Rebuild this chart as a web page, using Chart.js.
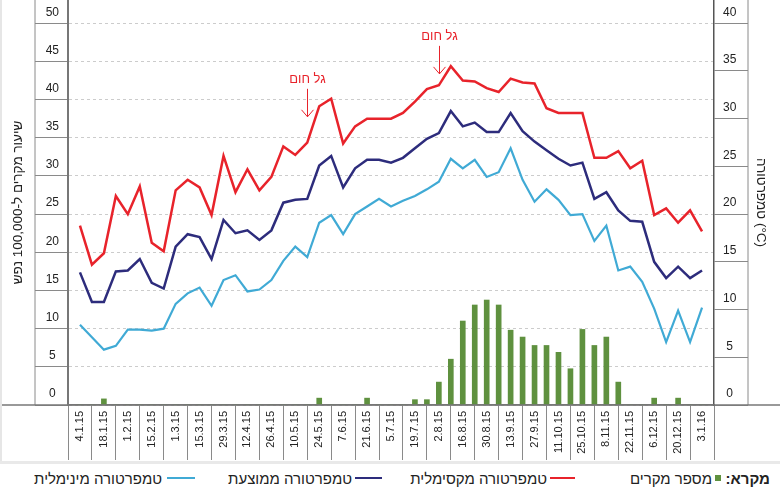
<!DOCTYPE html>
<html lang="he">
<head>
<meta charset="utf-8">
<script src="https://cdn.jsdelivr.net/npm/chart.js@4.4.1/dist/chart.umd.min.js"></script>
<style>
  html, body { margin: 0; padding: 0; background: #fff; }
  #wrap { position: relative; width: 780px; height: 492px; overflow: hidden; }
  #chart { position: absolute; left: 0; top: 0; }
  #edge { position: absolute; left: 0; top: 0; width: 2px; height: 461px; background: #e6e6e6; }
  #legend {
    position: absolute; left: 0; top: 461px; width: 780px; height: 31px;
    box-sizing: border-box; border-top: 3px solid #e9e9e9;
    direction: rtl; display: flex; align-items: center;
    padding-right: 10px;
    font-family: "Liberation Sans", "DejaVu Sans", sans-serif; font-size: 15px; color: #222;
  }
  #legend .key { display: inline-block; width: 43px; font-weight: bold; font-size: 15px; }
  #legend .txt { display: inline-block; text-align: right; white-space: nowrap; }
  #legend .sq { width: 6px; height: 6px; margin-right: 6px; margin-left: 3px; }
  #legend .ln { height: 1.5px; margin-left: 3px; }
</style>
</head>
<body>
<div id="wrap">
  <canvas id="chart" width="780" height="461"></canvas>
  <div id="edge"></div>
  <div id="legend">
    <span class="key">מקרא:</span>
    <span class="sq" style="background:#5f913f"></span>
    <span class="txt" style="width:90px">מספר מקרים</span>
    <span class="ln" style="background:#e8232b; width:25px; margin-right:47px"></span>
    <span class="txt" style="width:128px">טמפרטורה מקסימלית</span>
    <span class="ln" style="background:#2d2c7c; width:27px; margin-right:37px"></span>
    <span class="txt" style="width:115px">טמפרטורה ממוצעת</span>
    <span class="ln" style="background:#40aad5; width:28px; margin-right:42px; margin-left:5px"></span>
    <span class="txt" style="width:122px">טמפרטורה מינימלית</span>
  </div>
</div>
<script>
// tick labels, one every two weeks
const tickLabels = ['4.1.15', '18.1.15', '1.2.15', '15.2.15', '1.3.15', '15.3.15', '29.3.15',
    '12.4.15', '26.4.15', '10.5.15', '24.5.15', '7.6.15', '21.6.15', '5.7.15', '19.7.15',
    '2.8.15', '16.8.15', '30.8.15', '13.9.15', '27.9.15', '11.10.15', '25.10.15', '8.11.15',
    '22.11.15', '6.12.15', '20.12.15', '3.1.16'];

// weekly values, 4.1.15 .. 3.1.16
const cases = [0, 0, 0.8, 0, 0, 0, 0, 0, 0, 0,
    0, 0, 0, 0, 0, 0, 0, 0, 0, 0,
    0.9, 0, 0, 0, 0.9, 0, 0, 0, 0.7, 0.7,
    3.0, 6.0, 11.0, 13.1, 13.75, 13.1, 9.8, 8.9, 7.8, 7.8,
    6.9, 4.75, 9.9, 7.8, 8.9, 3.0, 0, 0, 0.9, 0,
    0.9, 0, 0];

const maxTemp = [18.8, 14.7, 15.9, 21.9, 20.0, 22.9, 17.0, 16.1, 22.5, 23.6,
    22.8, 19.9, 26.1, 22.3, 24.7, 22.5, 23.9, 27.1, 26.2, 27.5,
    31.3, 32.1, 27.4, 29.2, 30.0, 30.0, 30.0, 30.6, 31.8, 33.1,
    33.5, 35.5, 34.0, 33.9, 33.2, 32.8, 34.2, 33.8, 33.7, 31.1,
    30.6, 30.6, 30.6, 25.9, 25.9, 26.6, 24.8, 25.6, 19.9, 20.6,
    19.1, 20.4, 18.2];

const meanTemp = [13.9, 10.8, 10.8, 14.0, 14.1, 15.3, 12.8, 12.2, 16.6, 17.9,
    17.6, 15.3, 19.4, 18.0, 18.3, 17.3, 18.3, 21.2, 21.5, 21.6,
    25.1, 26.1, 22.8, 24.8, 25.7, 25.7, 25.4, 25.9, 26.9, 27.9,
    28.5, 30.8, 29.2, 29.6, 28.6, 28.6, 30.6, 28.7, 27.6, 26.7,
    25.8, 25.1, 25.4, 21.6, 22.3, 20.4, 19.3, 19.2, 15.0, 13.3,
    14.5, 13.3, 14.1];

const minTemp = [8.4, 7.1, 5.8, 6.2, 7.9, 7.9, 7.8, 8.0, 10.6, 11.7,
    12.3, 10.4, 13.1, 13.6, 11.9, 12.1, 13.1, 15.1, 16.6, 15.5,
    19.1, 19.9, 17.9, 20.0, 20.8, 21.6, 20.8, 21.4, 21.9, 22.6,
    23.4, 25.8, 24.8, 25.7, 23.9, 24.4, 26.9, 23.6, 21.3, 22.6,
    21.5, 19.9, 20.0, 17.2, 18.8, 14.1, 14.5, 12.9, 10.1, 6.6,
    9.9, 6.6, 10.2];

// heat wave notes: week index and the temperature the arrow points at
const heatWaveText = 'גל חום';
const heatWaveWeeks = [19, 30];
const heatWaveTips = [30.2, 34.7];

const toPoints = (arr) => arr.map((v, i) => ({x: i, y: v}));

Chart.defaults.font.family = '"Liberation Sans", "DejaVu Sans", sans-serif';
Chart.defaults.color = '#222';

const framePlugin = {
    id: 'frame',
    afterDraw(chart) {
        const {ctx, chartArea, width} = chart;
        const left = chartArea.left - chart.scales.y.options.grid.tickLength;
        const right = chartArea.right + chart.scales.y2.options.grid.tickLength;
        ctx.save();
        ctx.strokeStyle = '#8a8a8a';
        ctx.lineWidth = 1;
        ctx.beginPath();
        ctx.moveTo(left, 0);
        ctx.lineTo(left, chartArea.bottom);
        ctx.moveTo(right, 0);
        ctx.lineTo(right, chartArea.bottom);
        ctx.stroke();
        ctx.strokeStyle = '#777';
        ctx.lineWidth = 1.5;
        ctx.beginPath();
        ctx.moveTo(0, chartArea.bottom);
        ctx.lineTo(width, chartArea.bottom);
        ctx.stroke();
        ctx.restore();
    }
};

const heatWavePlugin = {
    id: 'heatWave',
    afterDatasetsDraw(chart) {
        const {ctx} = chart;
        const xs = chart.scales.x, ys = chart.scales.y2;
        ctx.save();
        ctx.strokeStyle = '#e8232b';
        ctx.fillStyle = '#e8232b';
        ctx.lineWidth = 1;
        ctx.font = '13px "Liberation Sans", "DejaVu Sans", sans-serif';
        ctx.textAlign = 'center';
        ctx.textBaseline = 'middle';
        heatWaveWeeks.forEach((w, i) => {
            const x = Math.round(xs.getPixelForValue(w)) + 0.5;
            const tip = ys.getPixelForValue(heatWaveTips[i]);
            const top = tip - 28;
            ctx.beginPath();
            ctx.moveTo(x, top);
            ctx.lineTo(x, tip);
            ctx.moveTo(x - 6, tip - 7);
            ctx.lineTo(x, tip);
            ctx.lineTo(x + 6, tip - 7);
            ctx.stroke();
            ctx.fillText(heatWaveText, x, top - 9);
        });
        ctx.restore();
    }
};

new Chart(document.getElementById('chart'), {
    type: 'bar',
    data: {
        datasets: [{
            label: 'טמפרטורה מקסימלית',
            type: 'line',
            data: toPoints(maxTemp),
            borderColor: '#e8232b',
            borderWidth: 2.5,
            yAxisID: 'y2',
            pointRadius: 0,
            tension: 0,
            fill: false
        }, {
            label: 'טמפרטורה ממוצעת',
            type: 'line',
            data: toPoints(meanTemp),
            borderColor: '#2d2c7c',
            borderWidth: 2.5,
            yAxisID: 'y2',
            pointRadius: 0,
            tension: 0,
            fill: false
        }, {
            label: 'טמפרטורה מינימלית',
            type: 'line',
            data: toPoints(minTemp),
            borderColor: '#40aad5',
            borderWidth: 2.2,
            yAxisID: 'y2',
            pointRadius: 0,
            tension: 0,
            fill: false
        }, {
            label: 'מספר מקרים',
            type: 'bar',
            data: toPoints(cases),
            backgroundColor: '#5f913f',
            barThickness: 5,
            yAxisID: 'y'
        }]
    },
    options: {
        responsive: false,
        animation: false,
        events: [],
        layout: {padding: 0},
        plugins: {
            legend: {display: false},
            tooltip: {enabled: false}
        },
        scales: {
            x: {
                type: 'linear',
                min: -1,
                max: 53,
                offset: false,
                ticks: {
                    stepSize: 1,
                    autoSkip: false,
                    minRotation: 90,
                    maxRotation: 90,
                    padding: -49,
                    font: {size: 11},
                    color: '#222',
                    callback: (value) => {
                        const v = Math.round(value);
                        return (v >= 0 && v % 2 === 0) ? tickLabels[v / 2] : '';
                    }
                },
                grid: {
                    offset: false,
                    drawOnChartArea: false,
                    tickLength: 55,
                    tickWidth: 1,
                    tickColor: (ctx) => (Math.round(ctx.tick.value) % 2 !== 0) ? '#8a8a8a' : 'rgba(0,0,0,0)'
                },
                border: {display: true, color: '#777', width: 1.5},
                afterFit: (scale) => { scale.height = 56; }
            },
            y: {
                type: 'linear',
                position: 'left',
                min: 0,
                max: 53.05,
                ticks: {
                    stepSize: 5,
                    includeBounds: false,
                    padding: -24,
                    crossAlign: 'center',
                    labelOffset: -11,
                    font: {size: 12},
                    color: '#222'
                },
                grid: {
                    color: '#cccccc',
                    lineWidth: 1,
                    tickLength: 33,
                    tickColor: '#8a8a8a',
                    tickWidth: 1
                },
                border: {display: true, color: '#777', width: 2, dash: [3, 3]},
                title: {
                    display: true,
                    text: 'שיעור מקרים ל-100,000 נפש',
                    font: {size: 13.5},
                    color: '#222',
                    padding: 10
                },
                afterFit: (scale) => { scale.width = 68; }
            },
            y2: {
                type: 'linear',
                position: 'right',
                min: 0,
                max: 42.44,
                ticks: {
                    stepSize: 5,
                    includeBounds: false,
                    padding: -25,
                    crossAlign: 'center',
                    labelOffset: -11,
                    font: {size: 12},
                    color: '#222'
                },
                grid: {
                    drawOnChartArea: false,
                    tickLength: 34,
                    tickColor: '#8a8a8a',
                    tickWidth: 1
                },
                border: {display: true, color: '#555', width: 1.5},
                title: {
                    display: true,
                    text: 'טמפרטורה (°C)',
                    font: {size: 13.5},
                    color: '#222',
                    padding: 11
                },
                afterFit: (scale) => { scale.width = 66; }
            }
        }
    },
    plugins: [framePlugin, heatWavePlugin]
});
</script>
</body>
</html>
